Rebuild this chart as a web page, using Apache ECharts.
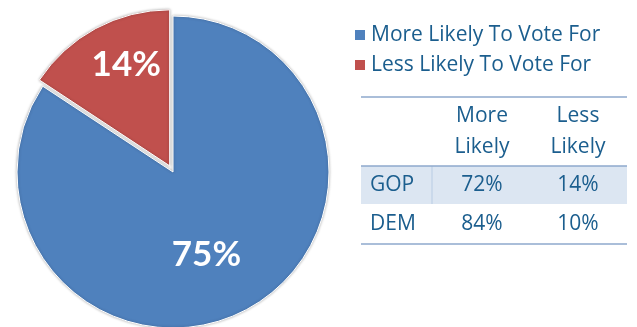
<!DOCTYPE html>
<html>
<head>
<meta charset="utf-8">
<script src="https://cdn.jsdelivr.net/npm/echarts@6/dist/echarts.min.js"></script>
<style>
  html, body { margin: 0; padding: 0; background: #fff; }
  #chart { width: 637px; height: 327px; }
</style>
</head>
<body>
<div id="chart"></div>
<script>
// pie data
const categories = ['More Likely To Vote For', 'Less Likely To Vote For'];
const values = [75, 14];
const colors = ['#4F81BD', '#C0504D'];

// table data
const tableCols = ['More\nLikely', 'Less\nLikely'];
const tableRows = ['GOP', 'DEM'];
const moreLikely = [72, 84];
const lessLikely = [14, 10];

const textColor = '#1B5E8E';
const fontFamily = '"Open Sans", Lato, sans-serif';

const chart = echarts.init(document.getElementById('chart'));

// table drawn with graphic elements
const tableLeft = 361, tableRight = 627;
const colX = [370, 482, 578];
const rowY = [185, 224];
const graphics = [
  { type: 'rect', shape: { x: tableLeft, y: 166, width: tableRight - tableLeft, height: 38 }, style: { fill: '#DCE6F2' } },
  { type: 'line', shape: { x1: 432, y1: 166, x2: 432, y2: 204 }, style: { stroke: '#B8CCE4', lineWidth: 1 } },
  { type: 'line', shape: { x1: tableLeft, y1: 97, x2: tableRight, y2: 97 }, style: { stroke: '#8EA9CC', lineWidth: 1.5 } },
  { type: 'line', shape: { x1: tableLeft, y1: 166, x2: tableRight, y2: 166 }, style: { stroke: '#8EA9CC', lineWidth: 1.5 } },
  { type: 'line', shape: { x1: tableLeft, y1: 244, x2: tableRight, y2: 244 }, style: { stroke: '#8EA9CC', lineWidth: 1.5 } }
];
tableCols.forEach((c, i) => {
  graphics.push({
    type: 'text', x: colX[i + 1], y: 132,
    style: { text: c, fill: textColor, font: '21px ' + fontFamily, lineHeight: 31, align: 'center', verticalAlign: 'middle' }
  });
});
tableRows.forEach((r, i) => {
  const cells = [r, moreLikely[i] + '%', lessLikely[i] + '%'];
  cells.forEach((t, j) => {
    graphics.push({
      type: 'text', x: colX[j], y: rowY[i],
      style: { text: t, fill: textColor, font: '21px ' + fontFamily, align: j === 0 ? 'left' : 'center', verticalAlign: 'middle' }
    });
  });
});

const labelShift = [[-5, 11], [-5, -30]];

const option = {
  animation: false,
  legend: {
    orient: 'vertical',
    left: 348,
    top: 19,
    icon: 'rect',
    itemWidth: 12,
    itemHeight: 12,
    itemGap: 8,
    selectedMode: false,
    textStyle: { color: textColor, fontSize: 21, lineHeight: 22, fontFamily: fontFamily },
    data: categories
  },
  graphic: graphics,
  series: [{
    type: 'pie',
    center: [173, 172],
    radius: 156,
    startAngle: 90,
    selectedMode: 'single',
    selectedOffset: 7,
    itemStyle: {
      borderColor: '#fff',
      borderWidth: 1,
      shadowBlur: 3,
      shadowColor: 'rgba(0,0,0,0.3)'
    },
    label: {
      position: 'inside',
      formatter: '{c}%',
      color: '#fff',
      fontSize: 35,
      fontWeight: 'bold',
      fontFamily: 'Lato, sans-serif'
    },
    labelLayout: function (params) {
      const s = labelShift[params.dataIndex];
      return { dx: s[0], dy: s[1] };
    },
    emphasis: { disabled: true },
    data: categories.map((name, i) => ({
      name: name,
      value: values[i],
      selected: i === 1,
      itemStyle: { color: colors[i] }
    }))
  }]
};

chart.setOption(option);
</script>
</body>
</html>
